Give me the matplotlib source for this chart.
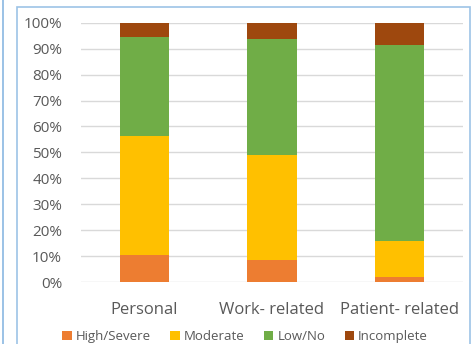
import numpy as np
import matplotlib
matplotlib.use("Agg")
import matplotlib.pyplot as plt
from matplotlib.patches import Rectangle
from matplotlib.ticker import PercentFormatter

categories = ["Personal", "Work- related", "Patient- related"]
series_names = ["High/Severe", "Moderate", "Low/No", "Incomplete"]
high = [10.5, 8.4, 1.8]
moderate = [45.8, 40.6, 14.1]
low = [38.2, 44.6, 75.4]
incomplete = [5.5, 6.4, 8.7]
colors = ["#ED7D31", "#FFC000", "#70AD47", "#9E480E"]

plt.rcParams["font.family"] = ["Open Sans", "DejaVu Sans"]

fig = plt.figure(figsize=(4.73, 3.44), dpi=100)
ax = fig.add_axes([0.171, 0.180, 0.808, 0.754])

# outer chart frame
fig.patches.append(Rectangle((17 / 473, -0.1), (470 - 17) / 473, 1 - 7 / 344 + 0.1,
                             transform=fig.transFigure, fill=False,
                             edgecolor="#9DC3E6", linewidth=1.2))
fig.patches.append(Rectangle((3 / 473, -0.1), 0, 1.2, transform=fig.transFigure,
                             fill=False, edgecolor="#9DC3E6", linewidth=1.2))

x = np.arange(len(categories))
bottom = np.zeros(len(categories))
for name, vals, c in zip(series_names, [high, moderate, low, incomplete], colors):
    ax.bar(x, vals, 0.39, bottom=bottom, color=c, label=name, zorder=3)
    bottom += np.array(vals)

ax.set_xlim(-0.5, len(categories) - 0.5)
ax.set_ylim(0, 100)
ax.set_yticks(np.arange(0, 101, 10))
ax.yaxis.set_major_formatter(PercentFormatter(decimals=0))
ax.set_xticks(x)
ax.set_xticklabels(categories)
ax.grid(axis="y", color="#D9D9D9", linewidth=1, zorder=0)
for s in ax.spines.values():
    s.set_visible(False)
ax.tick_params(axis="y", length=0, labelsize=11, labelcolor="#595959", pad=13.5)
ax.tick_params(axis="x", length=0, labelsize=12, labelcolor="#595959", pad=14.5)

ax.legend(loc="upper center", bbox_to_anchor=(0.43, -0.14), ncol=4, frameon=False,
          fontsize=9.5, handlelength=0.7, handleheight=0.7, handletextpad=0.3,
          columnspacing=1.5, labelcolor="#595959")

fig.savefig("out.png", dpi=100)
